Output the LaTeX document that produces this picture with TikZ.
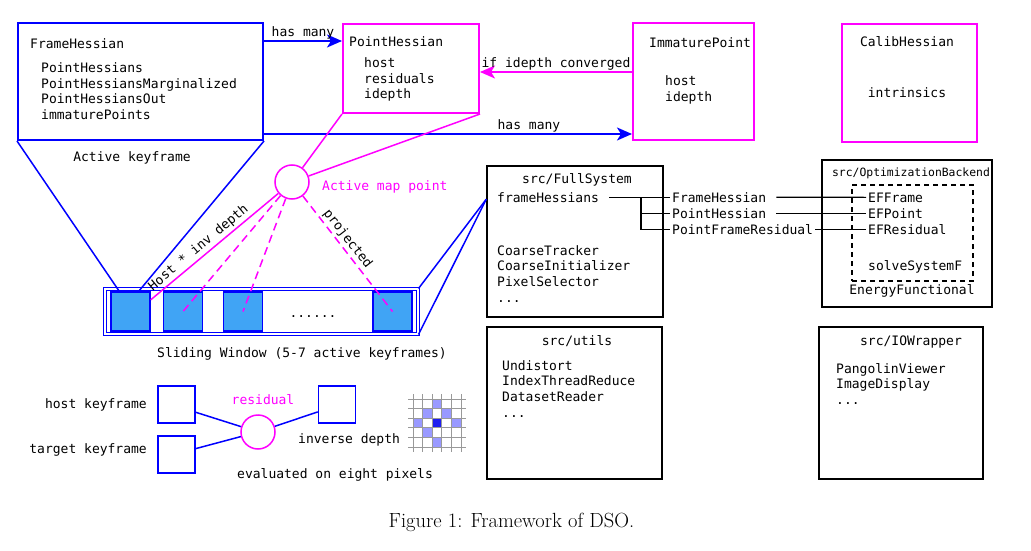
\documentclass[tikz,border=0pt]{standalone}
\usepackage{fontspec}
\setmonofont{DejaVu Sans Mono}
\usetikzlibrary{arrows.meta,calc}
\definecolor{keyblue}{RGB}{64,164,245}
\definecolor{ptmagenta}{RGB}{255,0,255}
\definecolor{pixlight}{RGB}{153,153,255}
\definecolor{pixdark}{RGB}{30,30,240}
\tikzset{
  lbl/.style={font=\ttfamily\fontsize{13}{15.6}\selectfont, inner sep=2pt, align=left},
  smalllbl/.style={font=\ttfamily\fontsize{11.4}{14}\selectfont, inner sep=2pt},
  bluebox/.style={draw=blue, line width=2pt, rectangle, inner sep=0pt},
  pinkbox/.style={draw=ptmagenta, line width=2pt, rectangle, inner sep=0pt},
  srcbox/.style={draw=black, line width=1.5pt, rectangle, inner sep=0pt},
  kfbox/.style={draw=blue, line width=1.5pt, fill=keyblue, minimum size=39pt, inner sep=0pt},
  legbox/.style={draw=blue, line width=1.5pt, minimum size=37pt, inner sep=0pt},
  hasarrow/.style={-{Stealth[length=15pt,width=13pt,inset=4pt]}, line width=2pt},
}
\begin{document}
\begin{tikzpicture}
\useasboundingbox (0pt,0pt) rectangle (1031pt,-551pt);

% frame hessian
\node[bluebox, minimum width=245pt, minimum height=117pt] (fhbox) at (140.5pt,-81.5pt) {};
\node[lbl, anchor=base west] (fhtitle) at (28pt,-49pt) {FrameHessian};
\node[lbl, anchor=base west] (fhlist) at (39pt,-119.5pt) {PointHessians\\PointHessiansMarginalized\\PointHessiansOut\\immaturePoints};
\node[lbl, anchor=base] (fhcap) at (132pt,-161pt) {Active keyframe};

% point hessian
\node[pinkbox, minimum width=136pt, minimum height=89pt] (phbox) at (411pt,-68.5pt) {};
\node[lbl, anchor=base west] (phtitle) at (347pt,-47pt) {PointHessian};
\node[lbl, anchor=base west] (phlist) at (362pt,-99pt) {host\\residuals\\idepth};

% immature point
\node[pinkbox, minimum width=121pt, minimum height=117pt] (ipbox) at (693.5pt,-81.5pt) {};
\node[lbl, anchor=base west] (iptitle) at (647pt,-48pt) {ImmaturePoint};
\node[lbl, anchor=base west] (iplist) at (663pt,-101.5pt) {host\\idepth};

% calib hessian
\node[pinkbox, minimum width=135pt, minimum height=118pt] (chbox) at (909.5pt,-83pt) {};
\node[lbl, anchor=base] (chtitle) at (907pt,-47pt) {CalibHessian};
\node[lbl, anchor=base] (chlist) at (907pt,-98pt) {intrinsics};

\draw[hasarrow, color=blue] ($(fhbox.north east)+(0pt,-19pt)$) -- ($(phbox.north west)+(0pt,-18pt)$)
  node[lbl, midway, above, inner sep=1pt, text=black] {has many};
\draw[hasarrow, color=blue] ($(fhbox.south east)+(0pt,7pt)$) -- ($(ipbox.south west)+(0pt,7pt)$)
  node[lbl, pos=0.72, above, inner sep=1pt, text=black] {has many};
\draw[hasarrow, color=ptmagenta] ($(ipbox.north west)+(0pt,-50pt)$) -- ($(phbox.north east)+(0pt,-49pt)$)
  node[lbl, midway, above, inner sep=1pt, text=black] {if idepth converged};

% sliding window
\node[draw=blue, line width=1pt, double, double distance=1.4pt, minimum width=313pt, minimum height=45pt, inner sep=0pt] (window) at (261.5pt,-311.5pt) {};
\node[kfbox] (kf1) at (130.5pt,-311.5pt) {};
\node[kfbox] (kf2) at (183pt,-311.5pt) {};
\node[kfbox] (kf3) at (243pt,-311.5pt) {};
\node[kfbox] (kf4) at (392.5pt,-311.5pt) {};
\node[lbl, anchor=base] (dots) at (313pt,-317pt) {......};
\node[lbl, anchor=base] (wincap) at (302pt,-357pt) {Sliding Window (5-7 active keyframes)};

\draw[color=blue, line width=1.5pt] (fhbox.south west) -- ($(kf1.north west)+(9pt,0pt)$);
\draw[color=blue, line width=1.5pt] (fhbox.south east) -- ($(kf1.north east)+(-12pt,0pt)$);

% active map point
\node[draw=ptmagenta, line width=1.5pt, circle, minimum size=34pt, inner sep=0pt, fill=white] (amp) at (292pt,-182pt) {};
\node[lbl, anchor=base west, text=ptmagenta] (amplbl) at (320pt,-190pt) {Active map point};
\draw[color=ptmagenta, line width=1.5pt] (amp) -- (phbox.south west);
\draw[color=ptmagenta, line width=1.5pt] (amp) -- (phbox.south east);
\draw[color=ptmagenta, line width=1.5pt] (kf1.30) -- (amp)
  node[lbl, sloped, above, pos=0.42, text=black] {Host * inv depth};
\draw[color=ptmagenta, line width=1.5pt, dash pattern=on 8pt off 5pt] (amp) -- (kf2.center);
\draw[color=ptmagenta, line width=1.5pt, dash pattern=on 8pt off 5pt] (amp) -- (kf3.center);
\draw[color=ptmagenta, line width=1.5pt, dash pattern=on 8pt off 5pt] (amp) -- (kf4.center)
  node[lbl, sloped, above, pos=0.42, text=black] {projected};

% full system
\node[srcbox, minimum width=176pt, minimum height=151pt] (fsbox) at (575pt,-241.5pt) {};
\node[lbl, anchor=base] (fstitle) at (577pt,-183pt) {src/FullSystem};
\node[lbl, anchor=base west] (fhs) at (495pt,-202pt) {frameHessians};
\node[lbl, anchor=base west] (fslist) at (495pt,-302pt) {CoarseTracker\\CoarseInitializer\\PixelSelector\\...};
\draw[color=blue, line width=1.5pt] (window.north east) -- ($(fsbox.north west)+(0pt,-34pt)$);
\draw[color=blue, line width=1.5pt] (window.south east) -- ($(fsbox.north west)+(0pt,-34pt)$);

% optimization backend
\node[srcbox, minimum width=170pt, minimum height=147pt] (obbox) at (907pt,-233.5pt) {};
\node[draw=black, line width=1.5pt, dash pattern=on 5pt off 4pt, minimum width=121pt, minimum height=96pt, inner sep=0pt] (efbox) at (912.5pt,-233pt) {};
\node[smalllbl, anchor=base] (obtitle) at (911pt,-176pt) {src/OptimizationBackend};
\node[lbl, anchor=base west] (eff) at (866pt,-202pt) {EFFrame};
\node[lbl, anchor=base west] (efp) at (866pt,-218pt) {EFPoint};
\node[lbl, anchor=base west] (efr) at (866pt,-234pt) {EFResidual};
\node[lbl, anchor=base west] (solve) at (866pt,-270pt) {solveSystemF};
\node[lbl, anchor=base] (energy) at (912pt,-294pt) {EnergyFunctional};

% links between the modules
\node[lbl, anchor=base west] (brfh) at (670pt,-202pt) {FrameHessian};
\node[lbl, anchor=base west] (brph) at (670pt,-218pt) {PointHessian};
\node[lbl, anchor=base west] (brpfr) at (670pt,-234pt) {PointFrameResidual};
\coordinate (brk) at ($(fhs.east)!0.58!(brfh.west)$);
\draw[line width=1.2pt, shorten <=8pt] (fhs.east) -- (brfh.west);
\draw[line width=1.2pt] (brk) |- (brph.west);
\draw[line width=1.2pt] (brk) |- (brpfr.west);
\draw[line width=1.2pt, shorten <=8pt] (brfh.east) -- (eff.west);
\draw[line width=1.2pt, shorten <=8pt] (brph.east) -- (efp.west);
\draw[line width=1.2pt] (brpfr.east) -- (efr.west);

% utils and io wrapper
\node[srcbox, minimum width=175pt, minimum height=152pt] (utbox) at (574.5pt,-403pt) {};
\node[lbl, anchor=base] (uttitle) at (577pt,-345pt) {src/utils};
\node[lbl, anchor=base west] (utlist) at (500pt,-417pt) {Undistort\\IndexThreadReduce\\DatasetReader\\...};
\node[srcbox, minimum width=164pt, minimum height=152pt] (iobox) at (901pt,-403pt) {};
\node[lbl, anchor=base] (iotitle) at (911pt,-345pt) {src/IOWrapper};
\node[lbl, anchor=base west] (iolist) at (834pt,-404.5pt) {PangolinViewer\\ImageDisplay\\...};

% residual legend
\node[legbox] (hostkf) at (176.5pt,-404.5pt) {};
\node[legbox] (targetkf) at (176.5pt,-454.5pt) {};
\node[legbox] (idsq) at (337pt,-404.5pt) {};
\node[draw=ptmagenta, line width=1.5pt, circle, minimum size=34pt, inner sep=0pt] (res) at (258pt,-432pt) {};
\node[lbl, anchor=base east] (hostlbl) at (149pt,-408pt) {host keyframe};
\node[lbl, anchor=base east] (tgtlbl) at (149pt,-453pt) {target keyframe};
\node[lbl, anchor=base, text=ptmagenta] (reslbl) at (263pt,-404pt) {residual};
\node[lbl, anchor=base west] (idlbl) at (296pt,-443pt) {inverse depth};
\node[lbl, anchor=base west] (evlbl) at (235pt,-478pt) {evaluated on eight pixels};
\draw[color=blue, line width=1.5pt] (hostkf.-22) -- (res);
\draw[color=blue, line width=1.5pt] (targetkf.17) -- (res);
\draw[color=blue, line width=1.5pt] (res) -- (idsq.201);

% eight pixel pattern
\fill[pixlight] (432.2pt,-399pt) rectangle (441.8pt,-408.6pt);
\fill[pixlight] (422.6pt,-408.6pt) rectangle (432.2pt,-418.2pt);
\fill[pixlight] (441.8pt,-408.6pt) rectangle (451.4pt,-418.2pt);
\fill[pixlight] (413pt,-418.2pt) rectangle (422.6pt,-427.8pt);
\fill[pixlight] (451.4pt,-418.2pt) rectangle (461pt,-427.8pt);
\fill[pixlight] (422.6pt,-427.8pt) rectangle (432.2pt,-437.4pt);
\fill[pixlight] (432.2pt,-437.4pt) rectangle (441.8pt,-447pt);
\fill[pixdark] (432.2pt,-418.2pt) rectangle (441.8pt,-427.8pt);
\draw[color=gray!80, line width=1pt]
  (413pt,-394pt) -- (413pt,-452pt) (422.6pt,-394pt) -- (422.6pt,-452pt)
  (432.2pt,-394pt) -- (432.2pt,-452pt) (441.8pt,-394pt) -- (441.8pt,-452pt)
  (451.4pt,-394pt) -- (451.4pt,-452pt) (461pt,-394pt) -- (461pt,-452pt)
  (408pt,-399pt) -- (466pt,-399pt) (408pt,-408.6pt) -- (466pt,-408.6pt)
  (408pt,-418.2pt) -- (466pt,-418.2pt) (408pt,-427.8pt) -- (466pt,-427.8pt)
  (408pt,-437.4pt) -- (466pt,-437.4pt) (408pt,-447pt) -- (466pt,-447pt);

\node[anchor=base, font=\fontsize{20.5}{24}\selectfont] (caption) at (511.5pt,-527pt) {Figure 1: Framework of DSO.};
\end{tikzpicture}
\end{document}
